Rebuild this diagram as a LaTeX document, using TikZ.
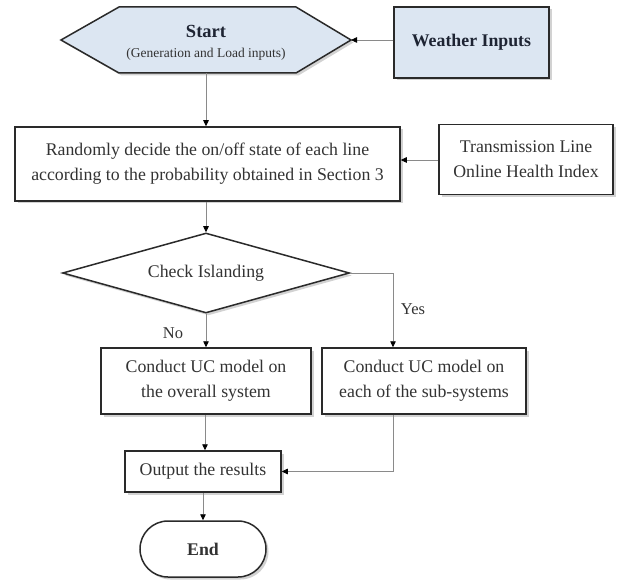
\documentclass[tikz,border=0pt]{standalone}
\usepackage{fontspec}
\setmainfont{Liberation Serif}
\usetikzlibrary{shapes.geometric,shapes.misc,shadows,arrows.meta}
\definecolor{fillblue}{HTML}{DCE6F2}
\definecolor{bordercol}{HTML}{2A2A2A}
\definecolor{txtcol}{HTML}{333333}
\definecolor{conncol}{HTML}{8A8A8A}
\definecolor{darktxt}{HTML}{1E2433}
\begin{document}
\begin{tikzpicture}[x=1pt,y=-1pt,
  shd/.style={drop shadow={opacity=0.35, shadow xshift=2.5pt, shadow yshift=-2.5pt}},
  box/.style={draw=bordercol, line width=1.5pt, fill=white, shd, text=txtcol, align=center,
    inner sep=0pt, font=\fontsize{17.8}{25}\selectfont},
  bluebox/.style={box, fill=fillblue, text=darktxt, font=\fontsize{17.8}{22}\selectfont\bfseries},
  conn/.style={draw=conncol, line width=0.8pt},
  arr/.style={conn, -{Triangle[length=6pt,width=5.5pt,color=black]}},
  lbl/.style={text=txtcol, font=\fontsize{16.5}{20}\selectfont, inner sep=0pt}]
\useasboundingbox[fill=white] (0,0) rectangle (622,583);

% start hexagon
\draw[draw=bordercol, line width=1.5pt, fill=fillblue, shd]
  (61,40) -- (119,7) -- (296,7) -- (351,40) -- (296,73) -- (119,73) -- cycle;
\coordinate (startR) at (351,40);
\coordinate (startB) at (206,73);
\node[text=darktxt, inner sep=0pt, font=\fontsize{18.5}{20}\selectfont\bfseries] (start) at (206,31) {Start};
\node[text=txtcol, inner sep=0pt, font=\fontsize{13.5}{16}\selectfont] (startsub) at (206,54)
  {(Generation and Load inputs)};

\node[bluebox, minimum width=155pt, minimum height=71pt] (weather) at (471.5,42.5) {Weather Inputs};

\node[box, minimum width=385pt, minimum height=74pt] (random) at (207.5,164)
  {Randomly decide the on/off state of each line\\according to the probability obtained in Section 3};

\node[box, minimum width=174pt, minimum height=70pt] (trans) at (526,159.5)
  {Transmission Line\\Online Health Index};

\node[box, diamond, minimum width=287pt, minimum height=80pt, aspect=3.6] (check) at (206,273)
  {Check Islanding};

\node[box, minimum width=210pt, minimum height=66pt] (ucL) at (206,381)
  {Conduct UC model on\\the overall system};
\node[box, minimum width=204pt, minimum height=66pt] (ucR) at (424,381)
  {Conduct UC model on\\each of the sub-systems};

\node[box, minimum width=156pt, minimum height=41pt] (out) at (203,471.5)
  {Output the results};

\node[box, rounded rectangle, minimum width=126pt, minimum height=56pt,
  font=\fontsize{17.8}{22}\selectfont\bfseries] (end) at (203,549) {End};

\coordinate (yesX) at (393,0);

% connectors
\draw[arr] (weather.west |- startR) -- (startR);
\draw[arr] (startB) -- (startB |- random.north);
\draw[arr] (trans.west |- 0,160) -- (random.east |- 0,160);
\draw[arr] (random.south -| startB) -- (check.north);
\draw[arr] (check.south) -- (check.south |- ucL.north);
\draw[arr] (check.east) -| (yesX |- ucR.north);
\draw[arr] (ucL.south -| 205,0) -- (out.north -| 205,0);
\draw[arr] (yesX |- ucR.south) |- (out.east);
\draw[arr] (out.south) -- (end.north);

\node[lbl] (no) at (173,333) {No};
\node[lbl] (yes) at (413,309) {Yes};
\end{tikzpicture}
\end{document}
